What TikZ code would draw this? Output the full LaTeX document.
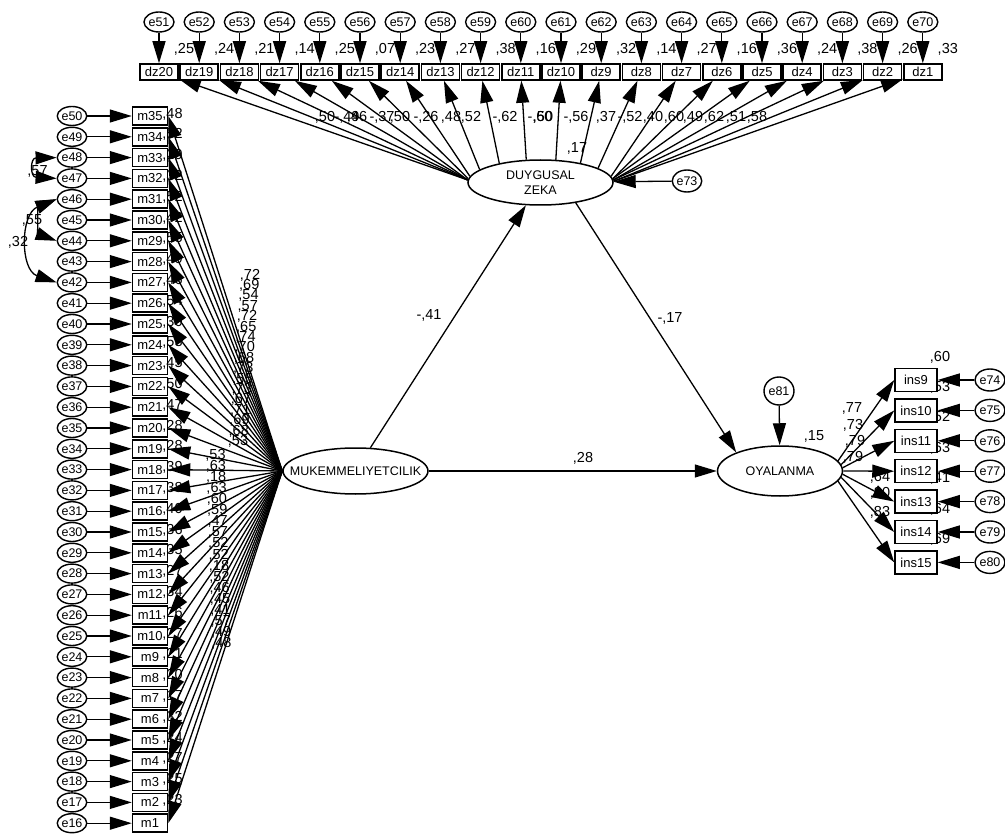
\documentclass[tikz,border=0pt]{standalone}
\usepackage{fontspec}
\setmainfont{Liberation Sans}
\usetikzlibrary{arrows.meta,shapes.geometric}
\begin{document}
\begin{tikzpicture}[x=1pt,y=-1pt,
  every node/.style={inner sep=0pt},
  obs/.style={draw, line width=1.5pt, fill=white, font=\fontsize{13}{14}\selectfont},
  err/.style={draw, ellipse, line width=1.4pt, fill=white, font=\fontsize{12.5}{14}\selectfont},
  lat/.style={draw, ellipse, line width=1.5pt, fill=white},
  latname/.style={font=\fontsize{12.5}{14.5}\selectfont, align=center},
  reg/.style={line width=1.3pt, -{Triangle[length=22pt,width=13pt]}},
  cov/.style={line width=1.3pt, {Triangle[length=21pt,width=13pt]}-{Triangle[length=21pt,width=13pt]}},
  est/.style={font=\fontsize{14.5}{16}\selectfont}]
\useasboundingbox (0,0) rectangle (1005,837);

% ---------- latent variables ----------
\node[lat, minimum width=145pt, minimum height=45pt,
      label={[latname]center:DUYGUSAL\\ZEKA}] (duy) at (540.5,182.5) {};
\node[lat, minimum width=145pt, minimum height=46pt,
      label={[latname]center:MUKEMMELIYETCILIK}] (muk) at (355.5,471) {};
\node[lat, minimum width=125pt, minimum height=50pt,
      label={[latname]center:OYALANMA}] (oya) at (780,471) {};

% ---------- emotional intelligence items (top row) ----------
\foreach \v [count=\i from 0] in {25,24,21,14,25,07,23,27,38,16,29,32,14,27,16,36,24,38,26,33} {
  \pgfmathtruncatemacro\k{20-\i}
  \node[est] (r2dz\k) at ({184+40.2*\i},49) {,\v};
}
\foreach \i in {0,...,19} {
  \pgfmathtruncatemacro\k{20-\i}
  \pgfmathtruncatemacro\e{51+\i}
  \node[obs, minimum width=38pt, minimum height=16pt] (dz\k) at ({159+40.2*\i},72) {dz\k};
  \node[err, minimum width=30pt, minimum height=20pt] (e\e) at ({159+40.2*\i},22) {e\e};
  \draw[reg] (e\e) -- (dz\k);
}
% loadings of the emotional intelligence items
\foreach \x/\s/\v [count=\i from 0] in {325/p/50,347/n/49,357/p/46,382/n/37,400/p/50,426/n/26,451/p/48,471/p/52,505/n/62,540/n/60,543/p/50,576/n/56,606/p/37,630/n/52,653/p/40,674/p/60,693/p/49,714/p/62,736/p/51,757/p/58} {
  \node[est] (ldz\i) at (\x,117) {\if n\s-\fi,\v};
}
\foreach \k/\a in {20/178,19/178,18/178,17/178,16/178,15/177,14/175,13/168,12/155,11/122,10/56,9/26,8/14,7/5,6/3,5/3,4/2,3/2,2/1,1/1} {
  \draw[reg] (duy.\a) -- (dz\k);
}
\node[est] (r2duy) at (577,148) {,17};
\node[err, minimum width=28pt, minimum height=22pt] (e73) at (687,181) {e73};
\draw[reg] (e73) -- (duy);

% ---------- perfectionism items (left column) ----------
\foreach \k in {1,...,35} {
  \pgfmathsetmacro\y{116+20.8*(35-\k)}
  \pgfmathtruncatemacro\e{\k+15}
  \node[obs, minimum width=35pt, minimum height=18pt] (m\k) at (150,\y) {m\k};
  \node[err, minimum width=29pt, minimum height=19pt] (e\e) at (72,\y) {e\e};
  \draw[reg] (e\e) -- (m\k);
}
\foreach \v [count=\k from 2] in {23,25,27,24,32,17,20,21,27,26,34,27,35,36,40,38,39,28,28,47,50,45,53,30,54,46,49,55,42,52,32,29,52,48} {
  \node[est] (r2m\k) at (172.5,{114+20.8*(35-\k)}) {,\v};
}
% loadings of the perfectionism items
\foreach \v [count=\j from 0] in {72,69,54,57,72,65,74,70,68,73,55,73,67,71,69,68,53} {
  \node[est] (lmu\j) at ({250-0.75*\j},{275+10.4*\j}) {,\v};
}
\foreach \v [count=\j from 0] in {53,63,18,63,60,59,47,57,52,52,18,52,46,45,41,57,49,48} {
  \node[est] (lml\j) at ({215.5+0.35*\j},{455+11.1*\j}) {,\v};
}
\foreach \k in {1,...,35} {
  \draw[reg] (muk.west) -- (m\k.east);
}
% error covariances
\node[est] (c1) at (37.5,171) {,57};
\node[est] (c2) at (32,220) {,55};
\node[est] (c3) at (18,242) {,32};
\draw[cov] (e48.west) .. controls (30,158) and (30,177) .. (e47.west);
\draw[cov] (e46.west) .. controls (38,207) and (38,234) .. (e44.west);
\draw[cov] (e46.west) .. controls (20,214) and (20,270) .. (e42.west);

% ---------- procrastination items (right column) ----------
\foreach \v [count=\j from 0] in {60,53,52,63,41,64,69} {
  \node[est] (r2ins\j) at (940,{357+30.4*\j}) {,\v};
}
\foreach \x/\y/\v [count=\j from 0] in {852/408/77,853/425/73,855/441/79,853/457/79,880/477/64,880/493/80,880/512/83} {
  \node[est] (lins\j) at (\x,\y) {,\v};
}
\foreach \j/\a in {0/10,1/6,2/3,3/0,4/-3,5/-6,6/-10} {
  \pgfmathtruncatemacro\k{9+\j}
  \pgfmathtruncatemacro\e{74+\j}
  \node[obs, minimum width=42pt, minimum height=23pt] (ins\k) at (916,{380+30.4*\j}) {ins\k};
  \node[err, minimum width=30pt, minimum height=22pt] (e\e) at (990,{380+30.4*\j}) {e\e};
  \draw[reg] (e\e) -- (ins\k);
  \draw[reg] (oya.\a) -- (ins\k.west);
}
\node[err, minimum width=30pt, minimum height=28pt] (e81) at (779,391) {e81};
\draw[reg] (e81) -- (oya);
\node[est] (r2oya) at (814,436) {,15};

% ---------- structural paths ----------
\draw[reg] (muk) -- (duy);
\draw[reg] (duy.-30) -- (oya.157);
\draw[reg] (muk.east) -- (oya.west);
\node[est] (b1) at (429,315) {-,41};
\node[est] (b2) at (670,318) {-,17};
\node[est] (b3) at (583,458) {,28};
\end{tikzpicture}
\end{document}
